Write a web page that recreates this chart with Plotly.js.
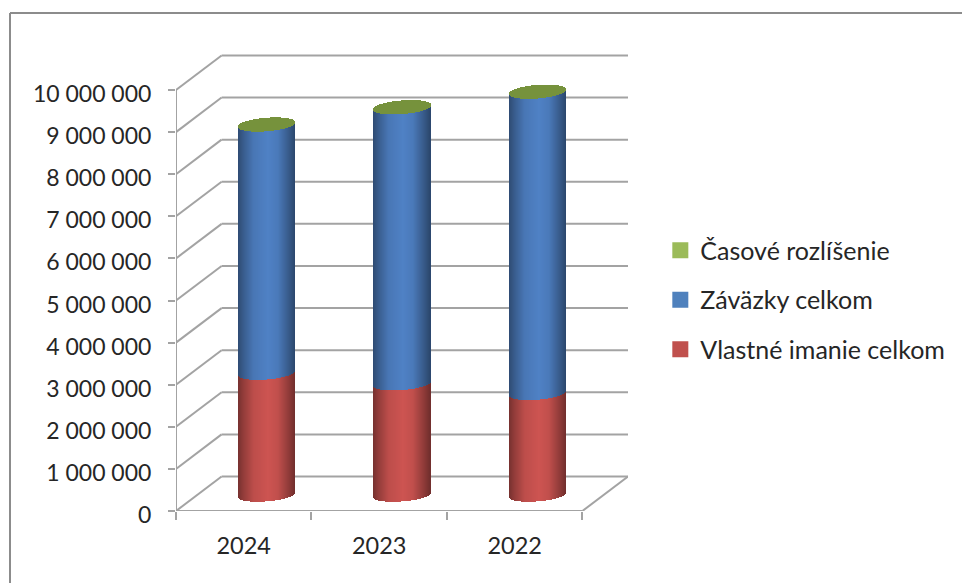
<!DOCTYPE html>
<html>
<head>
<meta charset="utf-8">
<script src="https://cdn.plot.ly/plotly-3.0.1.min.js"></script>
<style>html,body{margin:0;padding:0;background:#fff}</style>
</head>
<body>
<div id="chart" style="width:962px;height:583px"></div>
<script>
// Balance sheet structure by year (EUR)
const years = ['2024', '2023', '2022'];
const equity = [2895000, 2645000, 2415000];
const liabilities = [5895000, 6555000, 7155000];
const accruals = [20000, 20000, 20000];
const seriesNames = ['Časové rozlíšenie', 'Záväzky celkom', 'Vlastné imanie celkom'];
const yTicks = [0, 1e6, 2e6, 3e6, 4e6, 5e6, 6e6, 7e6, 8e6, 9e6, 1e7];
const yTickLabels = ['0', '1 000 000', '2 000 000', '3 000 000', '4 000 000', '5 000 000',
  '6 000 000', '7 000 000', '8 000 000', '9 000 000', '10 000 000'];

// Pseudo-3D projection, in axis units
const depthX = 0.3365, depthY = 820000;
const midX = depthX / 2, floorLift = 380000;
const radius = 0.2105, ellipseB = 152000, ellipseTilt = 52000;
const sliceCount = 57;
const xMin = -0.5, xMax = 2.5;

const gridColor = '#a3a3a3';
const redShade = [205, 84, 81], blueShade = [79, 129, 197];

// Cylinder shading across its width, u in [-1, 1]
const shadeU = [-1, -0.8, -0.45, 0.05, 0.4, 0.75, 1];
const shadeK = [0.58, 0.72, 0.92, 1.0, 0.94, 0.72, 0.55];
function shadeAt(u) {
  let i = 0;
  while (i < shadeU.length - 2 && u > shadeU[i + 1]) i++;
  const t = (u - shadeU[i]) / (shadeU[i + 1] - shadeU[i]);
  return shadeK[i] + t * (shadeK[i + 1] - shadeK[i]);
}

function sliceU(s) { return -1 + (2 * s + 1) / sliceCount; }
function halfChord(u) { return ellipseB * Math.sqrt(Math.max(0, 1 - u * u)); }
function frontArc(u) { return ellipseTilt * u - halfChord(u); }

// One stacked segment, drawn as narrow vertical slices with shading
function cylinderTrace(lower, values, rgb) {
  const x = [], base = [], y = [], color = [];
  years.forEach((_, c) => {
    for (let s = 0; s < sliceCount; s++) {
      const u = sliceU(s);
      x.push(c + midX + radius * u);
      base.push(floorLift + lower[c] + frontArc(u));
      y.push(values[c]);
      const k = shadeAt(u);
      color.push(`rgb(${rgb.map(v => Math.round(v * k)).join(',')})`);
    }
  });
  return {
    type: 'bar', x, y, base, width: 1.35 * 2 * radius / sliceCount,
    marker: { color, line: { width: 0 } }, showlegend: false, hoverinfo: 'skip'
  };
}

// Elliptical cap sitting on the top of each stack
function capTrace(lower, values) {
  const x = [], base = [], y = [];
  years.forEach((_, c) => {
    for (let s = 0; s < sliceCount; s++) {
      const u = sliceU(s);
      x.push(c + midX + radius * u);
      base.push(floorLift + lower[c] + frontArc(u));
      y.push(values[c] + 2 * halfChord(u));
    }
  });
  return {
    type: 'bar', x, y, base, width: 1.35 * 2 * radius / sliceCount,
    marker: { color: '#76923c', line: { width: 0 } }, showlegend: false, hoverinfo: 'skip'
  };
}

const zeros = years.map(() => 0);
const stackTop = equity.map((v, i) => v + liabilities[i]);

function legendEntry(name, color) {
  return {
    type: 'scatter', mode: 'markers', x: [null], y: [null], name, legendgroup: name,
    marker: { symbol: 'square', size: 16, color }, hoverinfo: 'skip'
  };
}

const traces = [
  cylinderTrace(zeros, equity, redShade),
  cylinderTrace(equity, liabilities, blueShade),
  capTrace(stackTop, accruals),
  legendEntry(seriesNames[0], '#9bbb59'),
  legendEntry(seriesNames[1], '#4f81bd'),
  legendEntry(seriesNames[2], '#c0504d')
];

function wallLine(x0, y0, x1, y1) {
  return { type: 'line', xref: 'x', yref: 'y', x0, y0, x1, y1, layer: 'below',
    line: { color: gridColor, width: 2 } };
}

const shapes = [];
yTicks.forEach(v => {
  shapes.push(wallLine(xMin, v, xMin + depthX, v + depthY));
  shapes.push(wallLine(xMin + depthX, v + depthY, xMax + depthX, v + depthY));
});
shapes.push(wallLine(xMin, 0, xMin, yTicks[yTicks.length - 1]));
shapes.push(wallLine(xMin, 0, xMax, 0));
shapes.push(wallLine(xMax, 0, xMax + depthX, depthY));

// Chart area border, running off the right and bottom edges of the page
const plotW = 452, plotH = 461, plotL = 176, plotB = 511;
const frameLeft = (10 - plotL) / plotW, frameRight = (962 - plotL) / plotW;
const frameTop = (plotB - 13) / plotH, frameBottom = (plotB - 583) / plotH;
[[frameLeft, frameTop, frameRight, frameTop], [frameLeft, frameTop, frameLeft, frameBottom]].forEach(p => {
  shapes.push({ type: 'line', xref: 'paper', yref: 'paper', x0: p[0], y0: p[1], x1: p[2], y1: p[3],
    layer: 'below', line: { color: '#8c8c8c', width: 2 } });
});

const layout = {
  width: 962, height: 583, autosize: false,
  margin: { l: plotL, r: 962 - plotL - plotW, t: plotB - plotH, b: 583 - plotB, pad: 0 },
  paper_bgcolor: '#ffffff', plot_bgcolor: 'rgba(0,0,0,0)',
  font: { family: 'Lato, sans-serif', size: 23, color: '#262626' },
  barmode: 'overlay', bargap: 0,
  showlegend: true,
  legend: {
    x: 1.0715, y: 0.615, xanchor: 'left', yanchor: 'top', traceorder: 'grouped',
    tracegroupgap: 14, itemclick: false, itemdoubleclick: false, itemsizing: 'trace',
    font: { family: 'Lato, sans-serif', size: 25, color: '#262626' }, bgcolor: 'rgba(0,0,0,0)'
  },
  xaxis: {
    type: 'linear', range: [xMin, xMax + depthX], showgrid: false, zeroline: false, showline: false,
    tickmode: 'array', tickvals: [0, 1, 2], ticktext: years, ticks: '',
    tickfont: { size: 23.5 }, ticklabelstandoff: 18,
    minor: { tickmode: 'array', tickvals: [-0.5, 0.5, 1.5, 2.5], ticks: 'outside', ticklen: 8, tickwidth: 2, tickcolor: gridColor, showgrid: false }
  },
  yaxis: {
    type: 'linear', range: [0, 10950000], showgrid: false, zeroline: false, showline: false,
    tickmode: 'array', tickvals: yTicks, ticktext: yTickLabels,
    ticks: 'outside', ticklen: 7, tickwidth: 2, tickcolor: gridColor,
    ticklabelstandoff: 12, ticklabelshift: 4
  },
  shapes
};

Plotly.newPlot('chart', traces, layout, { displayModeBar: false, staticPlot: true });
</script>
</body>
</html>
